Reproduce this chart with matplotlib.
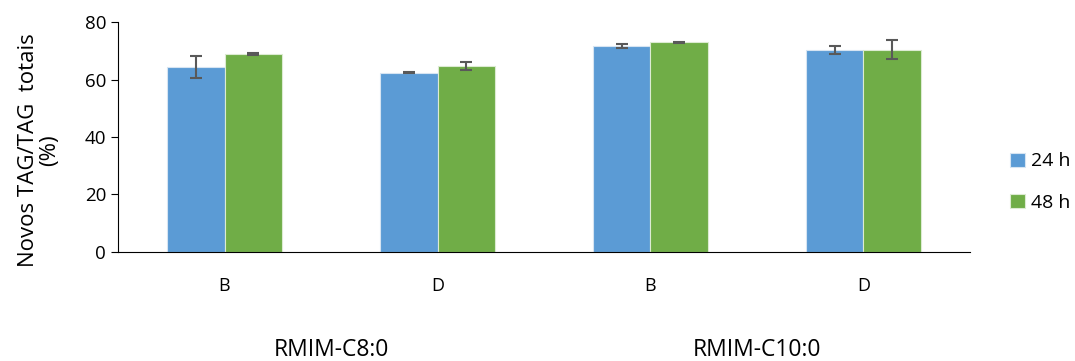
import matplotlib.pyplot as plt
import numpy as np

plt.rcParams['font.family'] = ['Open Sans', 'DejaVu Sans']

ticks = ['B', 'D', 'B', 'D']
groups = ['RMIM-C8:0', 'RMIM-C10:0']
vals_24 = [64.4, 62.4, 71.6, 70.4]
err_24 = [3.9, 0.3, 0.8, 1.4]
vals_48 = [68.8, 64.7, 72.9, 70.3]
err_48 = [0.4, 1.3, 0.3, 3.3]

fig = plt.figure(figsize=(10.75, 3.61), dpi=100)
ax = fig.add_axes([0.1098, 0.302, 0.7925, 0.637])

x = np.arange(len(ticks))
w = 0.268
ekw = dict(ecolor='#595959', elinewidth=1.5, capsize=4.5, capthick=1.5)
ax.bar(x - w/2, vals_24, w, yerr=err_24, color='#5B9BD5', edgecolor='#D6E4F2',
       linewidth=0.8, label='24 h', error_kw=ekw)
ax.bar(x + w/2, vals_48, w, yerr=err_48, color='#70AD47', edgecolor='#DCEBD2',
       linewidth=0.8, label='48 h', error_kw=ekw)

ax.set_xlim(-0.5, len(ticks) - 0.5)
ax.set_ylim(0, 80)
ax.set_yticks([0, 20, 40, 60, 80])
ax.set_xticks(x)
ax.set_xticklabels(ticks)
ax.tick_params(axis='x', length=0, pad=18, labelsize=13)
ax.tick_params(axis='y', length=5, labelsize=13.5)
for s in ['top', 'right']:
    ax.spines[s].set_visible(False)
ax.set_ylabel('Novos TAG/TAG  totais\n(%)', fontsize=16, linespacing=1.0)
ax.yaxis.set_label_coords(-0.068, 0.443)

trans = ax.get_xaxis_transform()
for i, g in enumerate(groups):
    ax.text(2*i + 0.5, -0.426, g, transform=trans, ha='center', va='center', fontsize=16.5)

ax.legend(loc='center left', bbox_to_anchor=(1.027, 0.304), frameon=False,
          fontsize=14, handlelength=0.75, handleheight=0.75, handletextpad=0.3,
          labelspacing=1.2)

fig.savefig('out.png', dpi=100)
